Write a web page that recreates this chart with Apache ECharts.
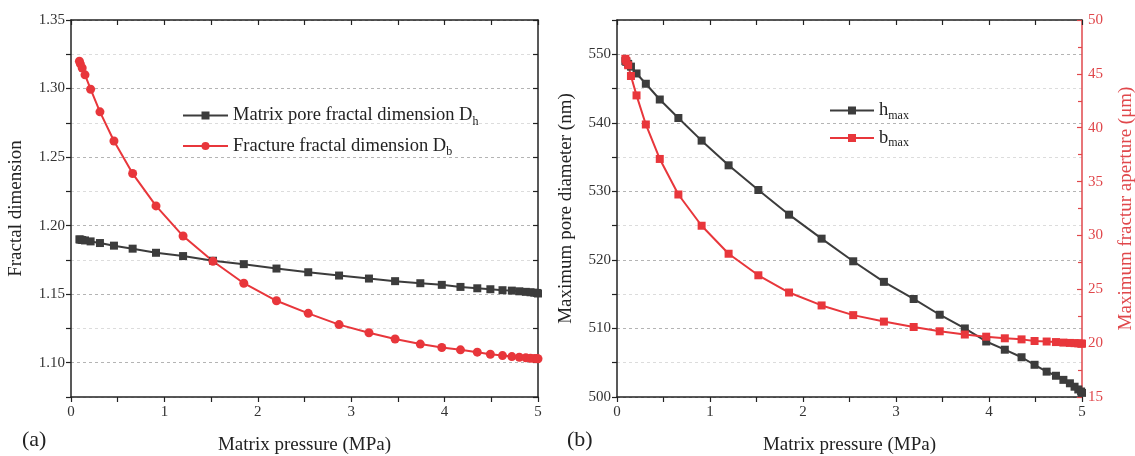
<!DOCTYPE html>
<html><head><meta charset="utf-8">
<script src="https://cdn.jsdelivr.net/npm/echarts@6/dist/echarts.min.js"></script>
<style>html,body{margin:0;padding:0;background:#fff}#c{width:1135px;height:456px}</style>
</head><body><div id="c"></div>
<script>
// Matrix pressure (MPa)
const pressure = [0.09, 0.1, 0.12, 0.15, 0.21, 0.31, 0.46, 0.66, 0.91, 1.2, 1.52, 1.85, 2.2, 2.54, 2.87, 3.19, 3.47, 3.74, 3.97, 4.17, 4.35, 4.49, 4.62, 4.72, 4.8, 4.87, 4.92, 4.96, 4.99, 5.0];
// (a) fractal dimensions
const Dh = [1.1900, 1.1898, 1.1895, 1.1892, 1.1885, 1.1873, 1.1854, 1.1832, 1.1802, 1.1778, 1.1744, 1.1719, 1.1687, 1.1660, 1.1636, 1.1614, 1.1595, 1.1580, 1.1568, 1.1553, 1.1543, 1.1536, 1.1529, 1.1526, 1.1521, 1.1517, 1.1514, 1.1511, 1.1509, 1.1505];
const Db = [1.3200, 1.3180, 1.3150, 1.3100, 1.2995, 1.2830, 1.2617, 1.2380, 1.2144, 1.1924, 1.1740, 1.1580, 1.1452, 1.1360, 1.1278, 1.1219, 1.1173, 1.1136, 1.1111, 1.1094, 1.1077, 1.1062, 1.1052, 1.1045, 1.1040, 1.1036, 1.1033, 1.1031, 1.1030, 1.1029];
// (b) maximum pore diameter (nm) and maximum fracture aperture (um)
const hmax = [549.0, 548.9, 548.6, 548.2, 547.2, 545.7, 543.4, 540.7, 537.4, 533.8, 530.2, 526.6, 523.1, 519.8, 516.8, 514.3, 512.0, 510.0, 508.1, 506.9, 505.8, 504.7, 503.7, 503.1, 502.5, 502.0, 501.5, 501.1, 500.8, 500.6];
const bmax = [46.4, 46.2, 45.8, 44.8, 43.0, 40.3, 37.1, 33.8, 30.9, 28.3, 26.3, 24.7, 23.5, 22.6, 22.0, 21.5, 21.1, 20.8, 20.6, 20.45, 20.35, 20.2, 20.15, 20.1, 20.05, 20.02, 20.0, 19.98, 19.96, 19.95];

const FONT = '"Liberation Serif", "DejaVu Serif", serif';
const BLACK = '#3c3c3c';
const RED = '#e8363b';
const AXRED = '#e0474b';
const TITLE = 19;
const TICK = 15;
const chart = echarts.init(document.getElementById('c'));

function xAxes(grid, pos) {
  const bottom = pos === 'bottom';
  return {
    gridIndex: grid, type: 'value', position: pos, min: 0, max: 5, interval: 0.5,
    name: bottom ? 'Matrix pressure (MPa)' : '', nameLocation: 'middle', nameGap: 39,
    nameTextStyle: {fontFamily: FONT, fontSize: TITLE, color: '#222'},
    axisLine: {show: true, onZero: false, lineStyle: {color: '#222', width: 1.5}},
    axisTick: {show: true, inside: !bottom, length: 5, lineStyle: {color: '#222', width: 1.2}},
    axisLabel: {show: bottom, fontFamily: FONT, fontSize: TICK, color: '#333', margin: 8,
      formatter: v => Math.abs(v - Math.round(v)) < 1e-6 ? String(Math.round(v)) : ''},
    splitLine: {show: false}
  };
}
const gridLineStyle = (colors) => ({show: true, lineStyle: {color: colors, type: [3, 3], width: 1}});

const option = {
  backgroundColor: '#fff',
  animation: false,
  grid: [
    {left: 71, right: 597, top: 20, bottom: 59, outerBoundsMode: 'none', containLabel: false},
    {left: 617, right: 53, top: 20, bottom: 59, outerBoundsMode: 'none', containLabel: false}
  ],
  xAxis: [xAxes(0, 'bottom'), xAxes(0, 'top'), xAxes(1, 'bottom'), xAxes(1, 'top')],
  yAxis: [
    {gridIndex: 0, type: 'value', position: 'left', min: 1.075, max: 1.35, interval: 0.025,
      name: 'Fractal dimension', nameLocation: 'middle', nameGap: 45,
      nameTextStyle: {fontFamily: FONT, fontSize: TITLE, color: '#222'},
      axisLine: {show: true, onZero: false, lineStyle: {color: '#222', width: 1.5}},
      axisTick: {show: true, length: 5, lineStyle: {color: '#222', width: 1.2}},
      axisLabel: {fontFamily: FONT, fontSize: TICK, color: '#333', margin: 6,
        formatter: v => Math.abs(v * 20 - Math.round(v * 20)) < 1e-6 ? v.toFixed(2) : ''},
      splitLine: gridLineStyle(['#dcdcdc', '#b4b4b4'])},
    {gridIndex: 0, type: 'value', position: 'right', min: 1.075, max: 1.35, interval: 0.025,
      axisLine: {show: true, onZero: false, lineStyle: {color: '#222', width: 1.5}},
      axisTick: {show: true, inside: true, length: 5, lineStyle: {color: '#222', width: 1.2}},
      axisLabel: {show: false}, splitLine: {show: false}},
    {gridIndex: 1, type: 'value', position: 'left', min: 500, max: 555, interval: 5,
      name: 'Maximum pore diameter (nm)', nameLocation: 'middle', nameGap: 41,
      nameTextStyle: {fontFamily: FONT, fontSize: TITLE, color: '#222'},
      axisLine: {show: true, onZero: false, lineStyle: {color: '#222', width: 1.5}},
      axisTick: {show: true, length: 5, lineStyle: {color: '#222', width: 1.2}},
      axisLabel: {fontFamily: FONT, fontSize: TICK, color: '#333', margin: 6,
        formatter: v => v % 10 === 0 ? String(v) : ''},
      splitLine: gridLineStyle(['#b4b4b4', '#dcdcdc'])},
    {gridIndex: 1, type: 'value', position: 'right', min: 15, max: 50, interval: 5,
      name: 'Maximum fractur aperture (\u03bcm)', nameLocation: 'middle', nameGap: 35, nameRotate: 90,
      nameTextStyle: {fontFamily: FONT, fontSize: TITLE, color: AXRED},
      axisLine: {show: true, onZero: false, lineStyle: {color: AXRED, width: 1.5}},
      axisTick: {show: true, inside: true, length: 5, lineStyle: {color: AXRED, width: 1.2}},
      minorTick: {show: true, splitNumber: 2, length: 4, lineStyle: {color: AXRED, width: 1.2}},
      axisLabel: {fontFamily: FONT, fontSize: TICK, color: AXRED, margin: 6},
      splitLine: {show: false}}
  ],
  legend: [
    {left: 182, top: 106, padding: 0, orient: 'vertical', itemWidth: 45, itemHeight: 10, itemGap: 9,
      data: ['Dh', 'Db'],
      formatter: n => n === 'Dh' ? '{m|Matrix pore fractal dimension D}{s|h}' : '{m|Fracture fractal dimension D}{s|b}',
      textStyle: {rich: {
        m: {fontFamily: FONT, fontSize: 18.5, color: '#222', lineHeight: 24},
        s: {fontFamily: FONT, fontSize: 12, color: '#222', lineHeight: 12, verticalAlign: 'bottom'}
      }}},
    {left: 829, top: 101, padding: 0, orient: 'vertical', itemWidth: 44, itemHeight: 10, itemGap: 7,
      data: ['hmax', 'bmax'],
      formatter: n => n === 'hmax' ? '{m|h}{s|max}' : '{m|b}{s|max}',
      textStyle: {rich: {
        m: {fontFamily: FONT, fontSize: 18.5, color: '#222', lineHeight: 22},
        s: {fontFamily: FONT, fontSize: 12, color: '#222', lineHeight: 12, verticalAlign: 'bottom'}
      }}}
  ],
  graphic: [
    {type: 'text', left: 22, top: 429, style: {text: '(a)', fontFamily: FONT, fontSize: 22, fill: '#222'}},
    {type: 'text', left: 567, top: 429, style: {text: '(b)', fontFamily: FONT, fontSize: 22, fill: '#222'}}
  ],
  series: [
    {name: 'Dh', type: 'line', xAxisIndex: 0, yAxisIndex: 0, data: pressure.map((p, i) => [p, Dh[i]]),
      symbol: 'rect', symbolSize: 8, color: BLACK, lineStyle: {width: 2, color: BLACK}, itemStyle: {color: BLACK}},
    {name: 'Db', type: 'line', xAxisIndex: 0, yAxisIndex: 0, data: pressure.map((p, i) => [p, Db[i]]),
      symbol: 'circle', symbolSize: 9, color: RED, lineStyle: {width: 2, color: RED}, itemStyle: {color: RED}},
    {name: 'hmax', type: 'line', xAxisIndex: 2, yAxisIndex: 2, data: pressure.map((p, i) => [p, hmax[i]]),
      symbol: 'rect', symbolSize: 8, color: BLACK, lineStyle: {width: 2, color: BLACK}, itemStyle: {color: BLACK}},
    {name: 'bmax', type: 'line', xAxisIndex: 2, yAxisIndex: 3, data: pressure.map((p, i) => [p, bmax[i]]),
      symbol: 'rect', symbolSize: 8, color: RED, lineStyle: {width: 2, color: RED}, itemStyle: {color: RED}}
  ]
};
chart.setOption(option);
</script>
</body></html>
